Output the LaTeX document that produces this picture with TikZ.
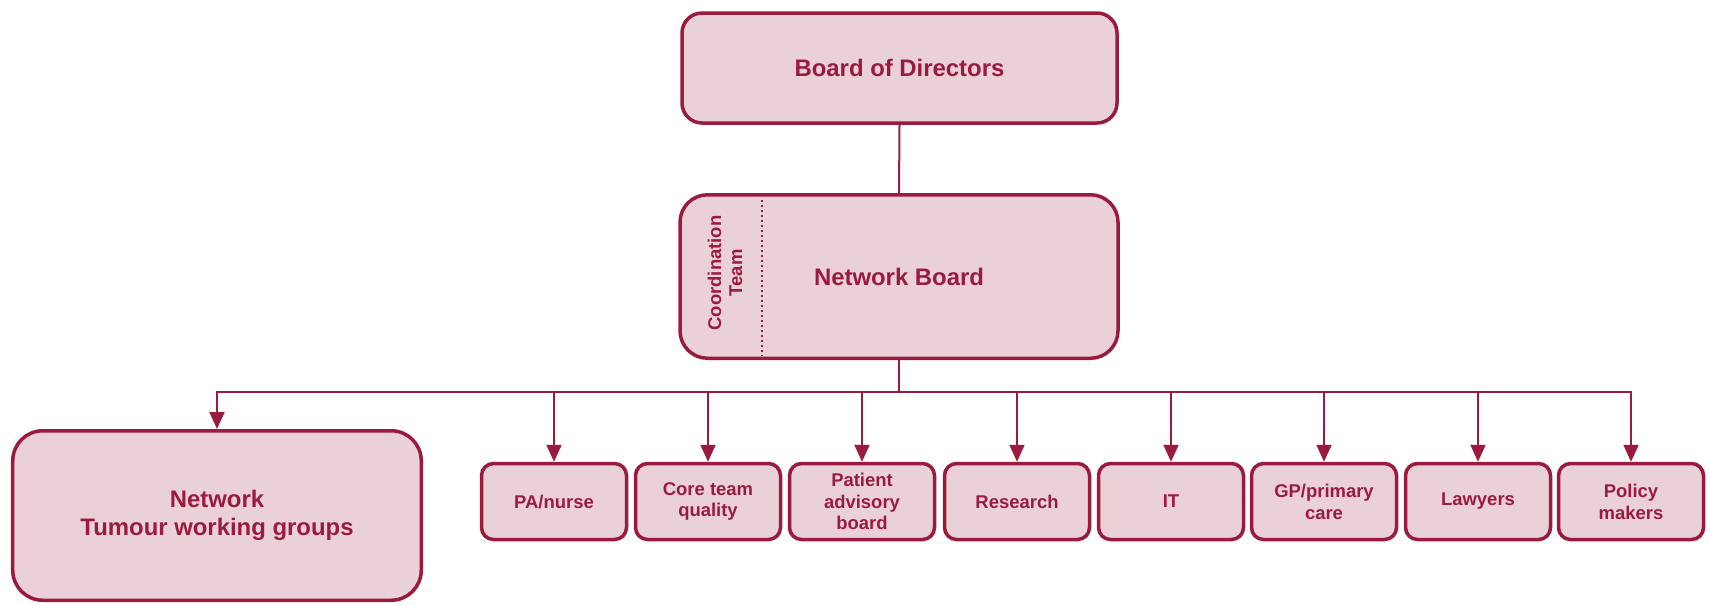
\documentclass[tikz,border=0pt]{standalone}
\usepackage{fontspec}
\setmainfont{Liberation Sans}
\usetikzlibrary{arrows.meta}
\definecolor{wine}{RGB}{155,27,63}
\definecolor{blush}{RGB}{234,209,215}

\begin{document}
\begin{tikzpicture}[x=0.2mm, y=-0.2mm,
		box/.style={draw=wine, fill=blush, line width=0.7mm, rounded corners=4mm, text=wine, align=center, inner sep=0pt, font=\bfseries\fontsize{13.6}{15.9}\selectfont},
		unitbox/.style={box, minimum width=29mm, minimum height=15.2mm, rounded corners=2.4mm, font=\bfseries\fontsize{10.5}{12.4}\selectfont},
		link/.style={draw=wine, line width=0.4mm},
		feed/.style={link, -{Triangle[length=3.4mm, width=3mm]}}]
		\useasboundingbox (0, 0) rectangle (1710, 605);
		\node[box, minimum width=87mm, minimum height=22mm] (directors) at (899.5, 68) {Board of Directors};
		\node[box, minimum width=87.6mm, minimum height=32.7mm, rounded corners=5.5mm] (nb) at (899, 276.5) {Network Board};
		\node[text=wine, rotate=90, align=center, font=\bfseries\fontsize{10.5}{11.9}\selectfont] (coord) at (725, 273) {Coordination\\Team};
		\draw[wine, line width=0.4mm, dash pattern=on 0.45mm off 0.55mm] (762, 200) to (762, 356);
		\node[box, minimum width=81.7mm, minimum height=33.9mm, rounded corners=6mm] (tumour) at (217, 515.5) {Network\\Tumour working groups};
		\foreach \x/\name/\label in {554/pa/{PA/nurse}, 708/core/{Core team\\quality}, 862/patient/{Patient\\advisory\\board}, 1017/research/Research, 1171/it/IT, 1324/gp/{GP/primary\\care}, 1478/lawyers/Lawyers, 1631/policy/{Policy\\makers}}
			\node[unitbox] (\name) at (\x, 501.5) {\label};
		\draw[link] (directors.south) to (nb.north);
		\coordinate (bus) at (899, 392);
		\draw[link] (nb.south) to (bus);
		\draw[feed] (bus) -| (tumour.north);
		\draw[feed] (bus) -| (policy.north);
		\foreach \name in {pa, core, patient, research, it, gp, lawyers}
			\draw[feed] (bus -| \name.north) to (\name.north);
	\end{tikzpicture}
\end{document}
